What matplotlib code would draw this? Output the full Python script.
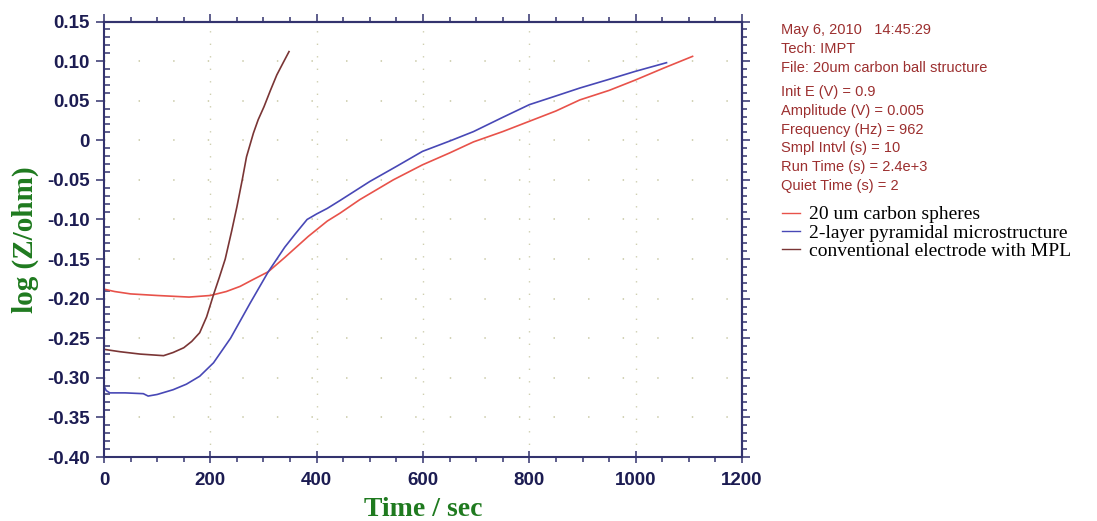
import numpy as np
import matplotlib
matplotlib.use("Agg")
import matplotlib.pyplot as plt
from matplotlib.ticker import MultipleLocator, FuncFormatter
from matplotlib.font_manager import FontProperties

# ---- data ----
t_red = [0, 20, 50, 100, 160, 200, 230, 256, 280, 309, 340, 384, 420, 444, 481,
         544, 599, 650, 695, 750, 800, 850, 895, 950, 999, 1052, 1107]
v_red = [-0.188, -0.191, -0.194, -0.196, -0.198, -0.196, -0.191, -0.1845, -0.176,
         -0.166, -0.148, -0.1215, -0.102, -0.092, -0.075, -0.050, -0.031, -0.016,
         -0.002, 0.011, 0.024, 0.037, 0.051, 0.063, 0.076, 0.091, 0.106]

t_blue = [0, 4, 11, 40, 74, 83, 100, 130, 155, 180, 206, 238, 275, 309, 340, 360,
          382, 400, 420, 444, 500, 550, 599, 650, 695, 750, 800, 850, 895, 950,
          999, 1058]
v_blue = [-0.310, -0.316, -0.319, -0.319, -0.320, -0.323, -0.321, -0.315, -0.308,
          -0.298, -0.281, -0.250, -0.2055, -0.166, -0.135, -0.118, -0.100, -0.093,
          -0.086, -0.076, -0.052, -0.033, -0.014, -0.001, 0.011, 0.029, 0.045,
          0.056, 0.066, 0.077, 0.087, 0.098]

t_brown = [0, 30, 68, 112, 130, 150, 165, 180, 193, 206, 217, 228, 240, 250, 260,
           268, 281, 290, 301, 313, 325, 337, 348]
v_brown = [-0.264, -0.267, -0.270, -0.272, -0.268, -0.262, -0.254, -0.243, -0.223,
           -0.195, -0.173, -0.150, -0.115, -0.084, -0.050, -0.021, 0.009, 0.026,
           0.0425, 0.063, 0.0825, 0.098, 0.112]

series_labels = ["20 um carbon spheres", "2-layer pyramidal microstructure",
                 "conventional electrode with MPL"]
info_head = ["May 6, 2010   14:45:29", "Tech: IMPT", "File: 20um carbon ball structure"]
info_params = ["Init E (V) = 0.9", "Amplitude (V) = 0.005", "Frequency (Hz) = 962",
               "Smpl Intvl (s) = 10", "Run Time (s) = 2.4e+3", "Quiet Time (s) = 2"]

# ---- style ----
AX_COL = "#33336e"
LBL_COL = "#1c1c52"
GREEN = "#1f7a1f"
INFO_COL = "#9c2f2f"
GRID_COL = "#cfcfb0"
C_RED, C_BLUE, C_BROWN = "#e8524a", "#4848b6", "#7a3535"

fig = plt.figure(figsize=(10.97, 5.21), dpi=100)
ax = fig.add_axes([0.0948, 0.1228, 0.5816, 0.8359])

l1, = ax.plot(t_red, v_red, color=C_RED, lw=1.2)
l2, = ax.plot(t_blue, v_blue, color=C_BLUE, lw=1.2)
l3, = ax.plot(t_brown, v_brown, color=C_BROWN, lw=1.2)

ax.set_xlim(0, 1200)
ax.set_ylim(-0.40, 0.15)

ax.xaxis.set_major_locator(MultipleLocator(200))
ax.xaxis.set_minor_locator(MultipleLocator(50))
ax.yaxis.set_major_locator(MultipleLocator(0.05))
ax.yaxis.set_minor_locator(MultipleLocator(0.01))

def yfmt(v, pos):
    if abs(v) < 1e-9:
        return "0"
    return "%.2f" % v

ax.yaxis.set_major_formatter(FuncFormatter(yfmt))

tick_fp = FontProperties(family="Liberation Sans", weight="bold", size=13.5)
for lab in ax.get_xticklabels() + ax.get_yticklabels():
    lab.set_fontproperties(tick_fp)
ax.tick_params(axis="both", which="both", colors=AX_COL, labelcolor=LBL_COL, width=1.1)
ax.tick_params(axis="x", which="major", direction="inout", length=9, pad=6)
ax.tick_params(axis="x", which="minor", direction="out", length=3.5)
ax.tick_params(axis="y", which="major", direction="out", length=6, pad=4)
ax.tick_params(axis="y", which="minor", direction="in", length=4)

for s in ax.spines.values():
    s.set_color(AX_COL)
    s.set_linewidth(1.5)

# top / right tick axes
sx = ax.secondary_xaxis("top")
sx.xaxis.set_major_locator(MultipleLocator(200))
sx.xaxis.set_minor_locator(MultipleLocator(50))
sx.tick_params(axis="x", which="major", direction="out", length=6, colors=AX_COL, width=1.1, labeltop=False)
sx.tick_params(axis="x", which="minor", direction="out", length=3.5, colors=AX_COL, width=1.1)
sx.spines["top"].set_color(AX_COL)
sx.spines["top"].set_linewidth(1.5)

sy = ax.secondary_yaxis("right")
sy.yaxis.set_major_locator(MultipleLocator(0.05))
sy.yaxis.set_minor_locator(MultipleLocator(0.01))
sy.tick_params(axis="y", which="major", direction="out", length=6, colors=AX_COL, width=1.1, labelright=False)
sy.tick_params(axis="y", which="minor", direction="out", length=3.5, colors=AX_COL, width=1.1)
sy.spines["right"].set_color(AX_COL)
sy.spines["right"].set_linewidth(1.5)

# dotted grid
ax.grid(True, axis="y", which="major", color=GRID_COL, lw=1.3, linestyle=(0, (0.8, 18.35)))
ax.grid(True, axis="x", which="major", color=GRID_COL, lw=1.0, linestyle=(0, (1, 8)))
ax.set_axisbelow(True)

ax.set_xlabel("Time / sec", family="Liberation Serif", weight="bold", size=20,
              color=GREEN, labelpad=6)
ax.set_ylabel("log (Z/ohm)", family="Liberation Serif", weight="bold", size=21,
              color=GREEN, labelpad=6)

# info block
fig.text(0.712, 0.955, "\n".join(info_head), family="Liberation Sans", size=10.5,
         color=INFO_COL, va="top", ha="left", linespacing=1.42)
fig.text(0.712, 0.836, "\n".join(info_params), family="Liberation Sans", size=10.5,
         color=INFO_COL, va="top", ha="left", linespacing=1.42)

leg = fig.legend([l1, l2, l3], series_labels, loc="upper left",
                 bbox_to_anchor=(0.713, 0.605), frameon=False,
                 prop=dict(family="Liberation Serif", size=14),
                 handlelength=0.9, handletextpad=0.5, labelspacing=0.03,
                 borderaxespad=0, borderpad=0)
for line in leg.get_lines():
    line.set_linewidth(1.0)

fig.savefig("out.png", dpi=100)
